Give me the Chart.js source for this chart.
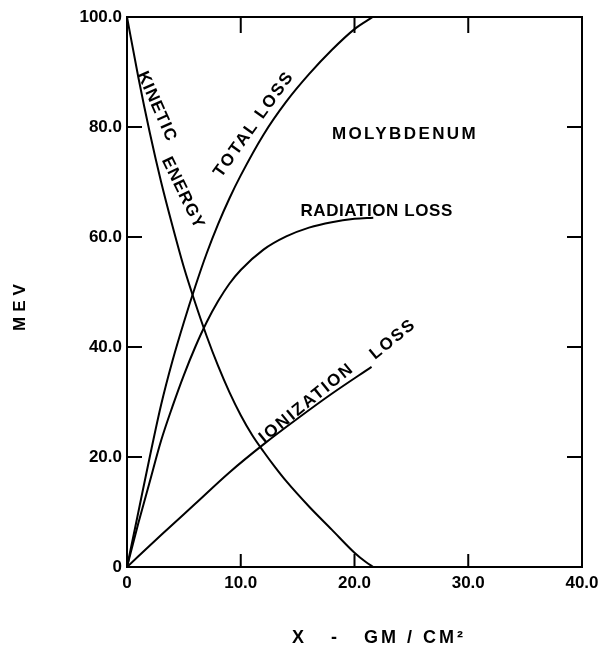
<!DOCTYPE html>
<html>
<head>
<meta charset="utf-8">
<script src="https://cdn.jsdelivr.net/npm/chart.js@4.4.1/dist/chart.umd.min.js"></script>
<style>
  html, body { margin: 0; padding: 0; background: #fff; }
</style>
</head>
<body>
<canvas id="chart" width="608" height="651"></canvas>
<script>
// thickness x in gm/cm^2, energies in MeV
const kineticX = [0, 1, 2, 3, 4, 5, 6, 7, 8, 9, 10, 11, 12, 13, 14, 16, 18, 20, 21, 21.65];
const kineticY = [100, 89, 79, 70, 62, 54.5, 48, 42, 36.6, 31.8, 27.6, 24, 21, 18.2, 15.6, 11, 6.8, 2.6, 0.9, 0];

const totalX = [0, 1, 2, 3, 4, 5, 6, 7, 8, 9, 10, 12, 14, 16, 18, 20, 21.6];
const totalY = [0, 10, 20, 29.5, 37.5, 44.5, 51, 57, 62.3, 67, 71.2, 78.6, 84.6, 89.6, 94, 97.8, 100];

const radiationX = [0, 1, 2, 3, 4, 5, 6, 7, 8, 9, 10, 12, 14, 16, 18, 20, 21.65];
const radiationY = [0, 8, 15.5, 23, 29.2, 34.9, 40, 44.5, 48.3, 51.5, 54, 57.7, 60.1, 61.7, 62.7, 63.3, 63.5];

const ionizationX = [0, 3, 6, 9, 12, 15, 18, 21.5];
const ionizationY = [0, 5.8, 11.5, 17.2, 22.3, 27, 31.5, 36.4];

const xTicks = [0, 10, 20, 30, 40];
const yTicks = [0, 20, 40, 60, 80, 100];

const FONT = 'Liberation Sans';

function toPoints(xs, ys) {
    return xs.map((x, i) => ({ x: x, y: ys[i] }));
}

function fmt(v) {
    return v === 0 ? '0' : v.toFixed(1);
}

function curve(label, xs, ys) {
    return {
        label: label,
        data: toPoints(xs, ys),
        showLine: true,
        borderColor: '#000',
        borderWidth: 2,
        pointRadius: 0,
        cubicInterpolationMode: 'monotone',
        fill: false
    };
}

// text written on the plot, placed in data units
const notes = [
    { text: 'KINETIC', x: 2.61, y: 83.7, angle: 66, size: 17, spacing: 1 },
    { text: 'ENERGY', x: 4.9, y: 68.0, angle: 64, size: 17, spacing: 1 },
    { text: 'TOTAL LOSS', x: 11.16, y: 80.5, angle: -54.5, size: 17, spacing: 2 },
    { text: 'MOLYBDENUM', x: 24.44, y: 78.7, angle: 0, size: 17, spacing: 2.4 },
    { text: 'RADIATION LOSS', x: 21.95, y: 64.7, angle: 0, size: 17, spacing: 0.6 },
    { text: 'IONIZATION', x: 15.8, y: 29.8, angle: -39, size: 17, spacing: 2 },
    { text: 'LOSS', x: 23.4, y: 41.4, angle: -39, size: 17, spacing: 2 }
];

function drawText(ctx, text, px, py, deg, size, spacing) {
    ctx.save();
    ctx.translate(px, py);
    ctx.rotate(deg * Math.PI / 180);
    ctx.font = 'bold ' + size + 'px "' + FONT + '"';
    ctx.letterSpacing = spacing + 'px';
    ctx.textAlign = 'center';
    ctx.textBaseline = 'middle';
    ctx.fillStyle = '#000';
    ctx.fillText(text, 0, 0);
    ctx.restore();
}

const frameAndNotes = {
    id: 'frameAndNotes',
    afterDraw(chart) {
        const ctx = chart.ctx;
        const a = chart.chartArea;
        const xs = chart.scales.x;
        const ys = chart.scales.y;

        ctx.save();
        ctx.strokeStyle = '#000';
        ctx.lineWidth = 2;
        ctx.strokeRect(a.left, a.top, a.right - a.left, a.bottom - a.top);

        // inward tick marks on all four sides
        ctx.beginPath();
        xTicks.slice(1, -1).forEach(v => {
            const p = xs.getPixelForValue(v);
            ctx.moveTo(p, a.bottom); ctx.lineTo(p, a.bottom - 13);
            ctx.moveTo(p, a.top); ctx.lineTo(p, a.top + 16);
        });
        yTicks.slice(1, -1).forEach(v => {
            const p = ys.getPixelForValue(v);
            ctx.moveTo(a.left, p); ctx.lineTo(a.left + 15, p);
            ctx.moveTo(a.right, p); ctx.lineTo(a.right - 15, p);
        });
        ctx.stroke();
        ctx.restore();

        notes.forEach(n => {
            drawText(ctx, n.text, xs.getPixelForValue(n.x), ys.getPixelForValue(n.y), n.angle, n.size, n.spacing);
        });

        // axis titles
        drawText(ctx, 'MEV', 20, 305, -90, 17, 5);
        ctx.save();
        ctx.font = 'bold 18px "' + FONT + '"';
        ctx.letterSpacing = '3px';
        ctx.textAlign = 'left';
        ctx.textBaseline = 'alphabetic';
        ctx.fillStyle = '#000';
        ctx.fillText('X   -   GM / CM\u00B2', 292, 643);
        ctx.restore();
    }
};

const tickFont = { family: FONT, size: 17, weight: 'bold' };

new Chart(document.getElementById('chart'), {
    type: 'scatter',
    data: {
        datasets: [
            curve('Kinetic energy', kineticX, kineticY),
            curve('Total loss', totalX, totalY),
            curve('Radiation loss', radiationX, radiationY),
            curve('Ionization loss', ionizationX, ionizationY)
        ]
    },
    options: {
        responsive: false,
        animation: false,
        layout: { padding: { left: 0, top: 17, right: 26, bottom: 0 } },
        plugins: {
            legend: { display: false },
            tooltip: { enabled: false }
        },
        scales: {
            x: {
                type: 'linear',
                min: 0,
                max: 40,
                afterFit: s => { s.height = 84; },
                afterBuildTicks: s => { s.ticks = xTicks.map(v => ({ value: v })); },
                grid: { display: false, drawTicks: false },
                border: { display: false },
                ticks: { color: '#000', font: tickFont, padding: 6, maxRotation: 0, callback: fmt }
            },
            y: {
                type: 'linear',
                min: 0,
                max: 100,
                afterFit: s => { s.width = 127; },
                afterBuildTicks: s => { s.ticks = yTicks.map(v => ({ value: v })); },
                grid: { display: false, drawTicks: false },
                border: { display: false },
                ticks: { color: '#000', font: tickFont, padding: 5, callback: fmt }
            }
        }
    },
    plugins: [frameAndNotes]
});
</script>
</body>
</html>
